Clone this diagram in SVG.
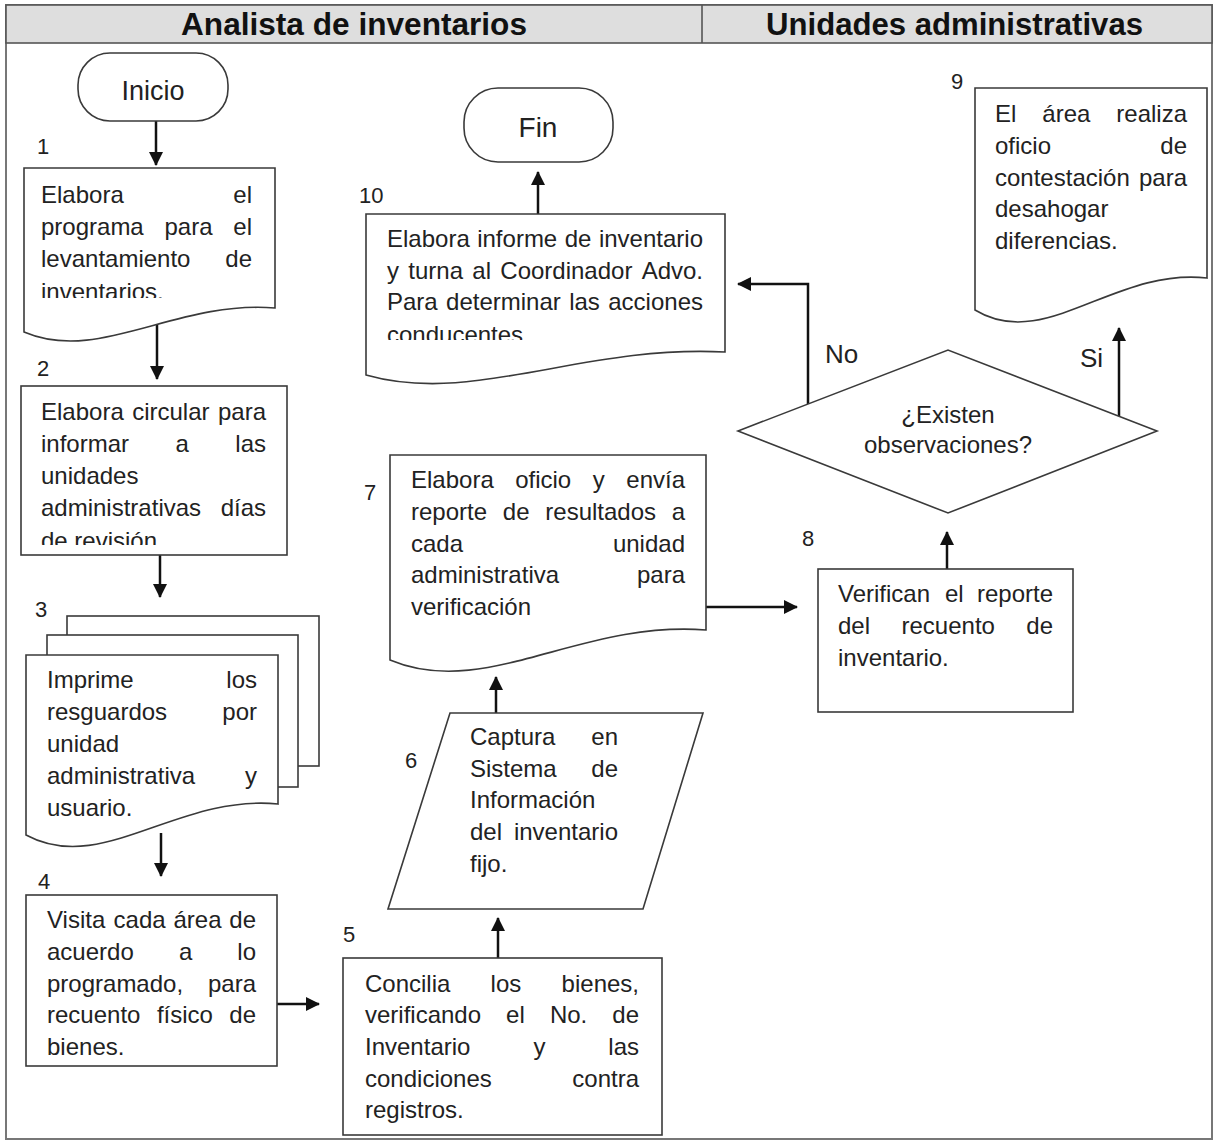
<svg xmlns="http://www.w3.org/2000/svg" width="1214" height="1144" viewBox="0 0 1214 1144">
<style>
.shape{fill:#fff;stroke:#3a3a3a;stroke-width:1.6}
.t{font-family:"Liberation Sans",Arial,sans-serif;font-size:24px;fill:#222}
.num{font-family:"Liberation Sans",Arial,sans-serif;font-size:22px;fill:#222}
.term{font-family:"Liberation Sans",Arial,sans-serif;font-size:27px;fill:#222;text-anchor:middle}
.hdr{font-family:"Liberation Sans",Arial,sans-serif;font-size:32px;font-weight:bold;fill:#111}
.lbl{font-family:"Liberation Sans",Arial,sans-serif;font-size:26px;fill:#222}
.e{text-anchor:end}
.c{text-anchor:middle}
.conn{fill:none;stroke:#111;stroke-width:2.5}
</style>
<defs>
<marker id="ah" viewBox="0 0 14 14" refX="13" refY="7" markerWidth="14" markerHeight="14" markerUnits="userSpaceOnUse" orient="auto">
<path d="M0,0 L14,7 L0,14 z" fill="#111"/>
</marker>
<clipPath id="c1"><rect x="24" y="168" width="251" height="130"/></clipPath>
<clipPath id="c2"><rect x="21" y="386" width="266" height="159"/></clipPath>
<clipPath id="c10"><rect x="366" y="214" width="359" height="126"/></clipPath>
</defs>

<g id="frame">
<rect x="6" y="5" width="1206" height="1134" fill="#fff" stroke="#777" stroke-width="2"/>
<rect x="6" y="5" width="1206" height="38" fill="#dedede" stroke="#555" stroke-width="1.6"/>
<line x1="702" y1="5" x2="702" y2="43" stroke="#555" stroke-width="1.6"/>
<text class="hdr" x="181" y="35" textLength="346" lengthAdjust="spacingAndGlyphs">Analista de inventarios</text>
<text class="hdr" x="766" y="35" textLength="377" lengthAdjust="spacingAndGlyphs">Unidades administrativas</text>
</g>

<g id="connectors">
<line class="conn" x1="156" y1="121" x2="156" y2="165" marker-end="url(#ah)"/>
<line class="conn" x1="157" y1="320" x2="157" y2="379" marker-end="url(#ah)"/>
<line class="conn" x1="160" y1="555" x2="160" y2="597" marker-end="url(#ah)"/>
<line class="conn" x1="161" y1="833" x2="161" y2="876" marker-end="url(#ah)"/>
<line class="conn" x1="277" y1="1004" x2="319" y2="1004" marker-end="url(#ah)"/>
<line class="conn" x1="498" y1="958" x2="498" y2="918" marker-end="url(#ah)"/>
<line class="conn" x1="496" y1="713" x2="496" y2="677" marker-end="url(#ah)"/>
<line class="conn" x1="706" y1="607" x2="797" y2="607" marker-end="url(#ah)"/>
<line class="conn" x1="947" y1="569" x2="947" y2="532" marker-end="url(#ah)"/>
<polyline class="conn" points="808,404 808,284 738,284" marker-end="url(#ah)"/>
<line class="conn" x1="1119" y1="416" x2="1119" y2="328" marker-end="url(#ah)"/>
<line class="conn" x1="538" y1="214" x2="538" y2="172" marker-end="url(#ah)"/>
<text class="lbl" x="825" y="363">No</text>
<text class="lbl" x="1080" y="367">Si</text>
</g>

<g id="inicio">
<rect class="shape" x="78" y="53" width="150" height="68" rx="32"/>
<text class="term" x="153" y="100">Inicio</text>
</g>

<g id="fin">
<rect class="shape" x="464" y="88" width="149" height="74" rx="34"/>
<text class="term" x="538" y="137" style="font-size:28px">Fin</text>
</g>

<g id="n1">
<text class="num" x="37" y="154">1</text>
<path class="shape" d="M24,168 H275 V308 C174.6,300 99.3,364 24,332 Z"/>
<g clip-path="url(#c1)">
<text class="t" y="203"><tspan x="41">Elabora</tspan><tspan x="252" class="e">el</tspan></text>
<text class="t" y="235"><tspan x="41">programa</tspan><tspan x="164.5">para</tspan><tspan x="252" class="e">el</tspan></text>
<text class="t" y="267"><tspan x="41">levantamiento</tspan><tspan x="252" class="e">de</tspan></text>
<text class="t" x="41" y="300">inventarios.</text>
</g>
</g>

<g id="n2">
<text class="num" x="37" y="376">2</text>
<rect class="shape" x="21" y="386" width="266" height="169"/>
<g clip-path="url(#c2)">
<text class="t" y="420"><tspan x="41">Elabora</tspan><tspan x="132.2">circular</tspan><tspan x="266" class="e">para</tspan></text>
<text class="t" y="452"><tspan x="41">informar</tspan><tspan x="175.5">a</tspan><tspan x="266" class="e">las</tspan></text>
<text class="t" x="41" y="484">unidades</text>
<text class="t" y="516"><tspan x="41">administrativas</tspan><tspan x="266" class="e">días</tspan></text>
<text class="t" x="41" y="549">de revisión</text>
</g>
</g>

<g id="n3">
<text class="num" x="35" y="617">3</text>
<rect class="shape" x="67" y="616" width="252" height="150"/>
<rect class="shape" x="47" y="635" width="251" height="152"/>
<path class="shape" d="M26,655 H278 V804 C177.2,794 101.6,876 26,835 Z"/>
<text class="t" y="688"><tspan x="47">Imprime</tspan><tspan x="257" class="e">los</tspan></text>
<text class="t" y="720"><tspan x="47">resguardos</tspan><tspan x="257" class="e">por</tspan></text>
<text class="t" x="47" y="752">unidad</text>
<text class="t" y="784"><tspan x="47">administrativa</tspan><tspan x="257" class="e">y</tspan></text>
<text class="t" x="47" y="816">usuario.</text>
</g>

<g id="n4">
<text class="num" x="38" y="889">4</text>
<rect class="shape" x="26" y="895" width="251" height="171"/>
<text class="t" y="928"><tspan x="47">Visita</tspan><tspan x="113.6">cada</tspan><tspan x="173.5">área</tspan><tspan x="256" class="e">de</tspan></text>
<text class="t" y="960"><tspan x="47">acuerdo</tspan><tspan x="178.9">a</tspan><tspan x="256" class="e">lo</tspan></text>
<text class="t" y="992"><tspan x="47">programado,</tspan><tspan x="256" class="e">para</tspan></text>
<text class="t" y="1023"><tspan x="47">recuento</tspan><tspan x="156.9">físico</tspan><tspan x="256" class="e">de</tspan></text>
<text class="t" x="47" y="1055">bienes.</text>
</g>

<g id="n5">
<text class="num" x="343" y="942">5</text>
<rect class="shape" x="343" y="958" width="319" height="177"/>
<text class="t" y="992"><tspan x="365">Concilia</tspan><tspan x="490.6">los</tspan><tspan x="639" class="e">bienes,</tspan></text>
<text class="t" y="1023"><tspan x="365">verificando</tspan><tspan x="506.1">el</tspan><tspan x="549.9">No.</tspan><tspan x="639" class="e">de</tspan></text>
<text class="t" y="1055"><tspan x="365">Inventario</tspan><tspan x="533.4">y</tspan><tspan x="639" class="e">las</tspan></text>
<text class="t" y="1087"><tspan x="365">condiciones</tspan><tspan x="639" class="e">contra</tspan></text>
<text class="t" x="365" y="1118">registros.</text>
</g>

<g id="n6">
<text class="num" x="405" y="768">6</text>
<polygon class="shape" points="450,713 703,713 643,909 388,909"/>
<text class="t" y="745"><tspan x="470">Captura</tspan><tspan x="618" class="e">en</tspan></text>
<text class="t" y="777"><tspan x="470">Sistema</tspan><tspan x="618" class="e">de</tspan></text>
<text class="t" x="470" y="808">Información</text>
<text class="t" y="840"><tspan x="470">del</tspan><tspan x="618" class="e">inventario</tspan></text>
<text class="t" x="470" y="872">fijo.</text>
</g>

<g id="n7">
<text class="num" x="364" y="500">7</text>
<path class="shape" d="M390,455 H706 V630 C579.6,620 484.8,700 390,660 Z"/>
<text class="t" y="488"><tspan x="411">Elabora</tspan><tspan x="515.2">oficio</tspan><tspan x="592.7">y</tspan><tspan x="685" class="e">envía</tspan></text>
<text class="t" y="520"><tspan x="411">reporte</tspan><tspan x="502.8">de</tspan><tspan x="545.3">resultados</tspan><tspan x="685" class="e">a</tspan></text>
<text class="t" y="552"><tspan x="411">cada</tspan><tspan x="685" class="e">unidad</tspan></text>
<text class="t" y="583"><tspan x="411">administrativa</tspan><tspan x="685" class="e">para</tspan></text>
<text class="t" x="411" y="615">verificación</text>
</g>

<g id="n8">
<text class="num" x="802" y="546">8</text>
<rect class="shape" x="818" y="569" width="255" height="143"/>
<text class="t" y="602"><tspan x="838">Verifican</tspan><tspan x="944.9">el</tspan><tspan x="1053" class="e">reporte</tspan></text>
<text class="t" y="634"><tspan x="838">del</tspan><tspan x="901.5">recuento</tspan><tspan x="1053" class="e">de</tspan></text>
<text class="t" x="838" y="666">inventario.</text>
</g>

<g id="decision">
<polygon class="shape" points="738,431 948,350 1157,431 948,513"/>
<text class="t c" x="948" y="423">¿Existen</text>
<text class="t c" x="948" y="453">observaciones?</text>
</g>

<g id="n9">
<text class="num" x="951" y="89">9</text>
<path class="shape" d="M975,88 H1207 V278 C1114.2,267.4 1044.6,352.6 975,310 Z"/>
<text class="t" y="122"><tspan x="995">El</tspan><tspan x="1042.3">área</tspan><tspan x="1187" class="e">realiza</tspan></text>
<text class="t" y="154"><tspan x="995">oficio</tspan><tspan x="1187" class="e">de</tspan></text>
<text class="t" y="186"><tspan x="995">contestación</tspan><tspan x="1187" class="e">para</tspan></text>
<text class="t" x="995" y="217">desahogar</text>
<text class="t" x="995" y="249">diferencias.</text>
</g>

<g id="n10">
<text class="num" x="359" y="203">10</text>
<path class="shape" d="M366,214 H725 V352 C581.4,344.4 473.7,405.6 366,375 Z"/>
<g clip-path="url(#c10)">
<text class="t" y="247"><tspan x="387">Elabora</tspan><tspan x="477.2">informe</tspan><tspan x="564.7">de</tspan><tspan x="703" class="e">inventario</tspan></text>
<text class="t" y="279"><tspan x="387">y</tspan><tspan x="408.3">turna</tspan><tspan x="472.3">al</tspan><tspan x="500.3">Coordinador</tspan><tspan x="703" class="e">Advo.</tspan></text>
<text class="t" y="310"><tspan x="387">Para</tspan><tspan x="446.1">determinar</tspan><tspan x="569.2">las</tspan><tspan x="703" class="e">acciones</tspan></text>
<text class="t" x="387" y="343">conducentes</text>
</g>
</g>
</svg>
